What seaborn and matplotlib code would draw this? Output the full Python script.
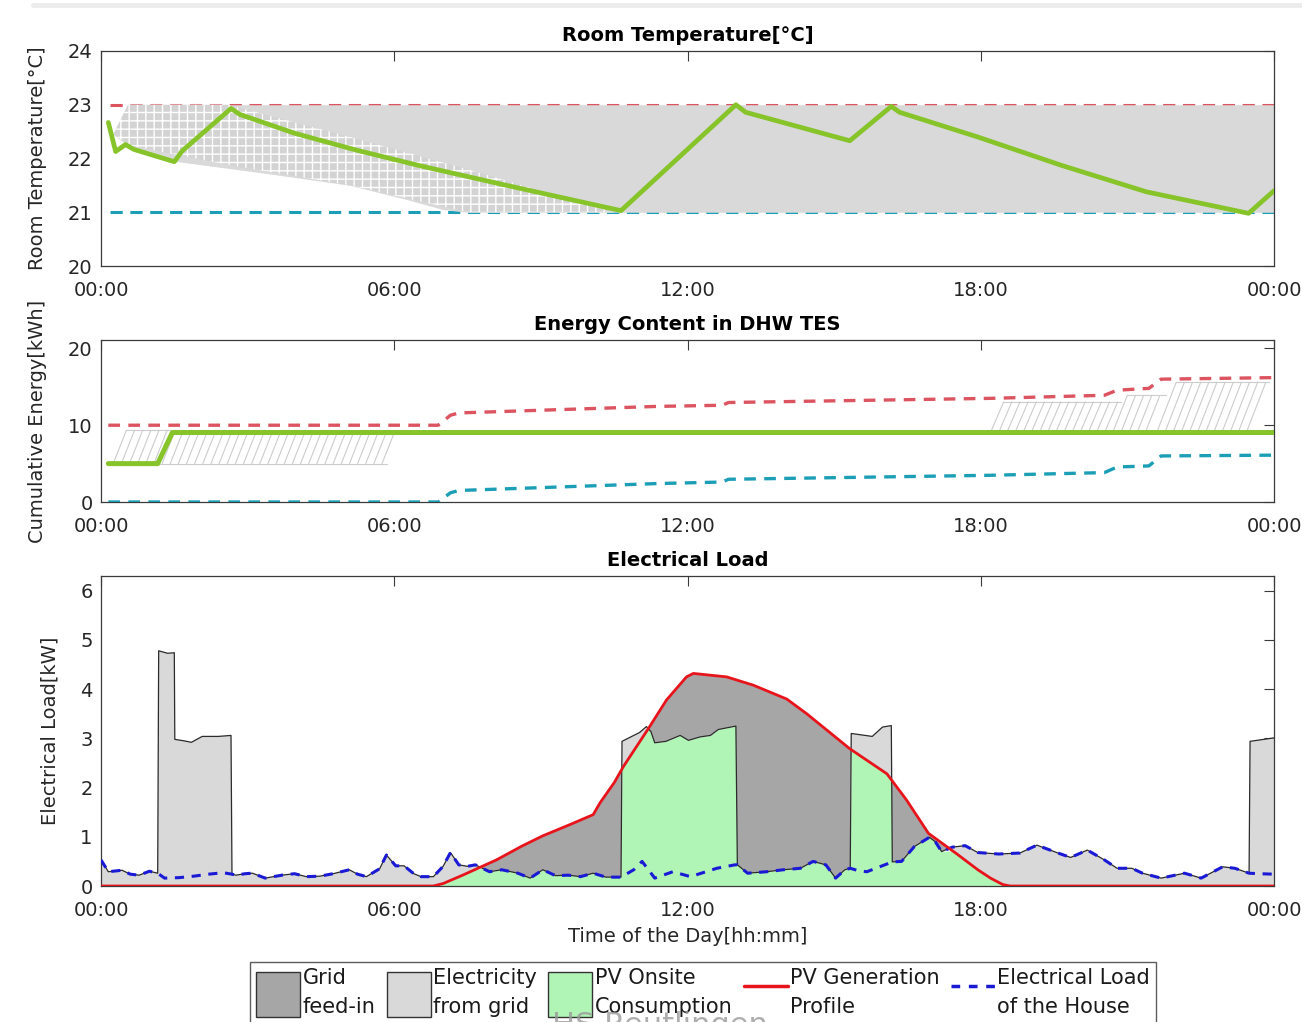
import numpy as np
import pandas as pd
import matplotlib.pyplot as plt
import seaborn as sns
from matplotlib.patches import Patch
from matplotlib.lines import Line2D

# --- Room temperature (hours of the day) ---
temp_t = [0.15, 0.30, 0.50, 0.67, 1.50, 1.66, 2.66, 2.84, 3.96, 5.25, 6.55, 8.30,
          9.99, 10.64, 12.99, 13.19, 15.32, 16.17, 16.34, 17.94, 19.66, 21.39, 23.48, 24.0]
temp_c = [22.67, 22.13, 22.26, 22.17, 21.94, 22.14, 22.93, 22.82, 22.47, 22.15, 21.86, 21.50,
          21.16, 21.03, 23.0, 22.86, 22.33, 22.97, 22.86, 22.40, 21.87, 21.38, 20.98, 21.40]
temp_min, temp_max = 21.0, 23.0
bound_t = [0.18, 24.0]

# grey band of the shifted temperature paths
band_t = [0.25, 0.55, 1.5, 3.4, 5.1, 6.2, 7.0, 7.5, 24.0]
band_low = [22.45, 22.25, 21.95, 21.72, 21.50, 21.25, 21.05, 21.0, 21.0]
band_high = [22.45, 23.0, 23.0, 23.0, 23.0, 23.0, 23.0, 23.0, 23.0]
sparse_t = [0.25, 0.55, 2.6, 5.1, 7.5, 10.5]
sparse_top = [22.45, 23.0, 23.0, 22.4, 21.8, 21.0]
sparse_low = [22.45, 22.25, 21.88, 21.50, 21.0, 21.0]

# --- Energy content in DHW TES ---
dhw_t = [0.15, 1.16, 1.46, 24.0]
dhw_kwh = [5.0, 5.0, 9.05, 9.05]
dhw_lim_t = [0.15, 6.9, 7.15, 7.32, 11.37, 12.71, 12.84, 18.2, 20.53, 20.79, 21.44, 21.69, 24.0]
dhw_max = [10.0, 10.0, 11.3, 11.6, 12.45, 12.6, 12.96, 13.5, 13.9, 14.56, 14.8, 16.0, 16.2]
dhw_min = [0.0, 0.0, 1.2, 1.5, 2.4, 2.6, 2.96, 3.48, 3.83, 4.56, 4.7, 6.0, 6.1]
# shifted charging paths: first start, last start, from, to, rise time [h]
shift_groups = [
    (0.25, 5.85, 5.0, 9.35, 0.27),
    (18.2, 20.6, 9.05, 13.05, 0.27),
    (20.7, 21.5, 9.05, 13.9, 0.30),
    (21.6, 23.5, 9.05, 15.6, 0.40),
]
shift_step = 1 / 6  # 10 min

# --- Electrical load ---
el_t = [0.00, 0.15, 0.43, 0.60, 0.78, 0.99, 1.16, 1.18, 1.36, 1.50, 1.51, 1.70, 1.85, 2.07,
        2.40, 2.66, 2.68, 2.76, 2.95, 3.10, 3.36, 3.70, 3.96, 4.20, 4.48, 4.75, 5.08, 5.25,
        5.43, 5.70, 5.84, 6.03, 6.20, 6.40, 6.55, 6.80, 7.00, 7.15, 7.32, 7.50, 7.66, 7.95,
        8.20, 8.53, 8.78, 9.04, 9.30, 9.56, 9.81, 10.07, 10.33, 10.64, 10.66, 11.02, 11.16,
        11.25, 11.33, 11.56, 11.85, 12.02, 12.26, 12.47, 12.63, 12.99, 13.02, 13.23, 13.62,
        13.96, 14.31, 14.57, 14.83, 15.03, 15.22, 15.33, 15.35, 15.78, 15.99, 16.17, 16.19,
        16.38, 16.64, 16.95, 17.07, 17.20, 17.42, 17.68, 17.94, 18.37, 18.80, 19.15, 19.58,
        19.84, 20.18, 20.53, 20.79, 21.09, 21.31, 21.69, 22.17, 22.51, 22.95, 23.20, 23.49,
        23.51, 24.00]
el_total = [0.53, 0.29, 0.32, 0.24, 0.22, 0.30, 0.26, 4.78, 4.73, 4.74, 2.98, 2.95, 2.92, 3.04,
            3.04, 3.06, 0.24, 0.22, 0.25, 0.26, 0.16, 0.22, 0.25, 0.19, 0.20, 0.25, 0.33, 0.24,
            0.19, 0.35, 0.63, 0.41, 0.41, 0.25, 0.19, 0.19, 0.40, 0.68, 0.43, 0.40, 0.43, 0.29,
            0.33, 0.26, 0.16, 0.33, 0.21, 0.22, 0.19, 0.26, 0.18, 0.18, 2.94, 3.12, 3.24,
            3.14, 2.91, 2.94, 3.06, 2.96, 3.03, 3.06, 3.18, 3.25, 0.43, 0.26, 0.29,
            0.33, 0.36, 0.50, 0.43, 0.16, 0.33, 0.36, 3.10, 3.04, 3.23, 3.26, 0.49,
            0.50, 0.80, 0.99, 0.90, 0.70, 0.79, 0.82, 0.68, 0.65, 0.67, 0.83, 0.67,
            0.58, 0.73, 0.53, 0.36, 0.36, 0.26, 0.16, 0.26, 0.16, 0.39, 0.36, 0.26,
            2.94, 3.01]
# heat pump running -> house load alone below the total
hp_windows = [(1.17, 2.67), (10.65, 13.01), (15.34, 16.18), (23.50, 24.01)]
house_hp_t = [1.30, 1.60, 1.90, 2.20, 2.50, 10.90, 11.07, 11.33, 11.70, 12.06, 12.60, 12.97,
              15.50, 15.67, 16.14, 23.70, 24.00]
house_hp_kw = [0.16, 0.17, 0.20, 0.24, 0.27, 0.33, 0.50, 0.16, 0.29, 0.19, 0.36, 0.43,
               0.31, 0.29, 0.47, 0.25, 0.24]
pv_t = [0.0, 6.8, 7.0, 7.4, 7.8, 8.09, 8.61, 9.04, 9.6, 10.07, 10.21, 10.5, 10.69, 11.2, 11.57,
        11.98, 12.12, 12.8, 13.35, 14.03, 14.44, 15.32, 16.08, 16.48, 16.93, 17.5, 17.94,
        18.2, 18.45, 18.6, 24.0]
pv_kw = [0.0, 0.0, 0.05, 0.22, 0.40, 0.53, 0.81, 1.02, 1.25, 1.45, 1.69, 2.10, 2.43, 3.20, 3.78,
         4.25, 4.32, 4.25, 4.08, 3.80, 3.50, 2.79, 2.28, 1.75, 1.07, 0.66, 0.33,
         0.16, 0.03, 0.0, 0.0]

hour_ticks = [0, 6, 12, 18, 24]
hour_labels = ['00:00', '06:00', '12:00', '18:00', '00:00']

# --- colours ---
c_green = '#86c42a'
c_max = '#dc5460'
c_min = '#1c9fb6'
c_band = '#d9d9d9'
c_feed = '#a6a6a6'
c_grid = '#d9d9d9'
c_pv_own = '#b0f5b6'
c_pv = '#e8141c'
c_house = '#1a1ad6'
c_edge = '#3a3a3a'

sns.set_theme(style='white')
plt.rcParams['font.family'] = ['DejaVu Sans']
plt.rcParams['hatch.linewidth'] = 1.0

fig = plt.figure(figsize=(13.02, 10.22), dpi=100)
W, H = 1302, 1022
ax1 = fig.add_axes([101 / W, 1 - 266 / H, 1173 / W, 215 / H])
ax2 = fig.add_axes([101 / W, 1 - 502 / H, 1173 / W, 162 / H])
ax3 = fig.add_axes([101 / W, 1 - 886 / H, 1173 / W, 310 / H])


def lp(ax, x, y, **kw):
    sns.lineplot(x=x, y=y, ax=ax, estimator=None, sort=False, legend=False, **kw)


# --- 1. Room temperature ---
ax1.fill_between(band_t, band_low, band_high, color=c_band, lw=0, zorder=2)
ax1.fill_between(sparse_t, sparse_low, sparse_top, facecolor='#d3d3d3', edgecolor='white',
                 hatch='++', lw=0, zorder=2.1)
lp(ax1, bound_t, [temp_max, temp_max], color=c_max, lw=2.2, dashes=(4, 2.5), zorder=1.5)
lp(ax1, bound_t, [temp_min, temp_min], color=c_min, lw=2.2, dashes=(4, 2.5), zorder=1.5)
lp(ax1, temp_t, temp_c, color=c_green, lw=3.4, zorder=4)
ax1.set_ylim(20, 24)
ax1.set_yticks([20, 21, 22, 23, 24])
ax1.set_title('Room Temperature[°C]', fontsize=14, fontweight='bold', color='black', pad=7)
ax1.set_ylabel('Room Temperature[°C]', fontsize=14)
ax1.yaxis.set_label_coords(-0.046, 0.5)

# --- 2. DHW storage ---
for first, last, lo, hi, rise in shift_groups:
    starts = np.arange(first, last + 1e-6, shift_step)
    xs, ys = [], []
    for s in starts:
        xs += [s, s + rise, np.nan]
        ys += [lo, hi, np.nan]
    ax2.plot(xs, ys, color='#cccccc', lw=0.8, zorder=2)
    ax2.plot([first, last], [lo, lo], color='#cccccc', lw=0.8, zorder=2)
    ax2.plot([first + rise, last + rise], [hi, hi], color='#cccccc', lw=0.8, zorder=2)
lp(ax2, dhw_lim_t, dhw_max, color=c_max, lw=2.4, dashes=(3.5, 2.5), zorder=3)
lp(ax2, dhw_lim_t, dhw_min, color=c_min, lw=2.4, dashes=(3.5, 2.5), zorder=3)
lp(ax2, dhw_t, dhw_kwh, color=c_green, lw=3.6, zorder=4)
ax2.set_ylim(0, 21.1)
ax2.set_yticks([0, 10, 20])
ax2.set_title('Energy Content in DHW TES', fontsize=14, fontweight='bold', color='black', pad=7)
ax2.set_ylabel('Cumulative Energy[kWh]', fontsize=14)
ax2.yaxis.set_label_coords(-0.046, 0.5)

# --- 3. Electrical load ---
el = pd.DataFrame({'t': el_t, 'kw': el_total})
in_hp = np.zeros(len(el), dtype=bool)
for a, b in hp_windows:
    in_hp |= (el['t'] > a) & (el['t'] < b)
house = pd.concat([el[~in_hp], pd.DataFrame({'t': house_hp_t, 'kw': house_hp_kw})])
house = house.sort_values('t').reset_index(drop=True)

grid = np.union1d(el_t, pv_t)
load_g = np.interp(grid, el_t, el_total)
pv_g = np.interp(grid, pv_t, pv_kw)
ax3.fill_between(grid, 0, np.minimum(load_g, pv_g), color=c_pv_own, lw=0, zorder=1)
ax3.fill_between(grid, load_g, pv_g, where=pv_g >= load_g, interpolate=True,
                 color=c_feed, lw=0, zorder=1)
ax3.fill_between(grid, pv_g, load_g, where=load_g >= pv_g, interpolate=True,
                 color=c_grid, lw=0, zorder=1)
lp(ax3, el['t'], el['kw'], color='#2b2b2b', lw=0.9, zorder=2)
lp(ax3, house['t'], house['kw'], color=c_house, lw=2.2, dashes=(3, 2.5), zorder=3)
lp(ax3, pv_t, pv_kw, color=c_pv, lw=2.0, zorder=4)
ax3.set_ylim(0, 6.3)
ax3.set_yticks(range(0, 7))
ax3.set_title('Electrical Load', fontsize=14, fontweight='bold', color='black', pad=7)
ax3.set_ylabel('Electrical Load[kW]', fontsize=14)
ax3.yaxis.set_label_coords(-0.035, 0.5)
ax3.set_xlabel('Time of the Day[hh:mm]', fontsize=14, labelpad=5)

for ax in (ax1, ax2, ax3):
    ax.set_xlim(0, 24)
    ax.set_xticks(hour_ticks)
    ax.set_xticklabels(hour_labels)
    ax.tick_params(axis='both', direction='in', length=7, width=0.8, color=c_edge,
                   labelsize=14, labelcolor='#262626', top=True, right=True)
    ax.tick_params(axis='x', pad=11)
    ax.tick_params(axis='y', pad=6)
    for sp in ax.spines.values():
        sp.set_color(c_edge)
        sp.set_linewidth(0.9)
    if ax is not ax3:
        ax.set_xlabel('')

handles = [
    Patch(facecolor=c_feed, edgecolor='#333333', lw=1),
    Patch(facecolor=c_grid, edgecolor='#333333', lw=1),
    Patch(facecolor=c_pv_own, edgecolor='#333333', lw=1),
    Line2D([], [], color=c_pv, lw=2.5),
    Line2D([], [], color=c_house, lw=2.5, dashes=(2.5, 2.5)),
]
labels = ['Grid\nfeed-in', 'Electricity\nfrom grid', 'PV Onsite\nConsumption',
          'PV Generation\nProfile', 'Electrical Load\nof the House']
leg = fig.legend(handles, labels, loc='upper left', bbox_to_anchor=(250 / W, 1 - 962 / H),
                 ncol=5, frameon=True, fancybox=False, edgecolor='#333333', fontsize=15,
                 handlelength=2.1, handleheight=3.0, handletextpad=0.12, columnspacing=0.55,
                 borderpad=0.3, borderaxespad=0)
leg.get_frame().set_linewidth(1.0)
for t in leg.get_texts():
    t.set_linespacing(1.55)
    t.set_color('#1a1a1a')

fig.text(660 / W, 1 - 1011 / H, 'HS Reutlingen', fontsize=22, color='#9a9a9a',
         ha='center', va='top', zorder=10, alpha=0.8)
fig.add_artist(Line2D([0.025, 1.0], [1 - 5 / H, 1 - 5 / H], transform=fig.transFigure,
                      color='#ececec', lw=3.5))

fig.savefig('out.png', dpi=100)
